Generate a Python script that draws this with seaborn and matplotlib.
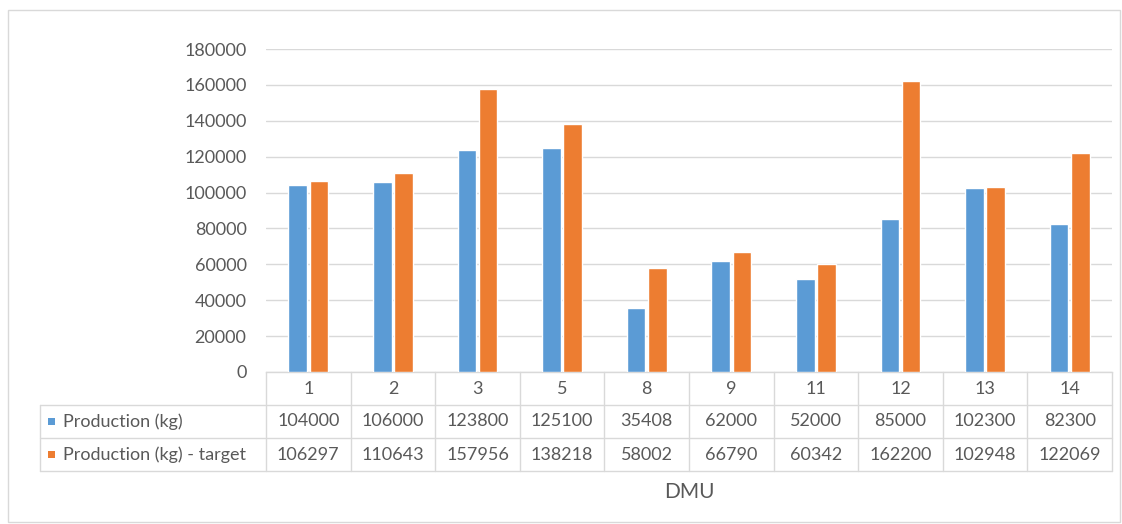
import matplotlib
matplotlib.use("Agg")
import matplotlib.pyplot as plt
import seaborn as sns
import pandas as pd
from matplotlib.patches import Rectangle

# DMU categories and the two production series (kg)
dmu = ["1", "2", "3", "5", "8", "9", "11", "12", "13", "14"]
production = [104000, 106000, 123800, 125100, 35408, 62000, 52000, 85000, 102300, 82300]
production_target = [106297, 110643, 157956, 138218, 58002, 66790, 60342, 162200, 102948, 122069]
series_names = ["Production (kg)", "Production (kg) - target"]
y_ticks = [0, 20000, 40000, 60000, 80000, 100000, 120000, 140000, 160000, 180000]

colors = ["#5B9BD5", "#ED7D31"]
text_color = "#595959"
line_color = "#D9D9D9"
fs = 13

sns.set_theme(style="white")
plt.rcParams["font.family"] = ["Lato", "DejaVu Sans"]

df = pd.DataFrame({
    "DMU": dmu * 2,
    "value": production + production_target,
    "series": [series_names[0]] * len(dmu) + [series_names[1]] * len(dmu),
})

W, H = 1122, 524
fig = plt.figure(figsize=(W / 100, H / 100), dpi=100)

# outer chart border
fig.patches.append(Rectangle((8 / W, 2 / H), 1112 / W, 512 / H, transform=fig.transFigure,
                             fill=False, edgecolor=line_color, linewidth=1.0))

left, right, top, bottom = 266, 1112, 49, 372
ax = fig.add_axes([left / W, 1 - bottom / H, (right - left) / W, (bottom - top) / H])

sns.barplot(data=df, x="DMU", y="value", hue="series", order=dmu, hue_order=series_names,
            palette=colors, width=0.5, gap=0.12, saturation=1, legend=False, ax=ax,
            zorder=3)

ax.set_xlim(-0.5, len(dmu) - 0.5)
ax.set_ylim(0, 180000)
ax.set_yticks(y_ticks)
ax.set_yticklabels([str(v) for v in y_ticks], color=text_color, fontsize=fs)
ax.tick_params(axis="y", length=0, pad=14)
ax.set_xticks([])
ax.set_xlabel("")
ax.set_ylabel("")
ax.grid(axis="y", color=line_color, linewidth=1.0, zorder=0)
for s in ["left", "right", "top"]:
    ax.spines[s].set_visible(False)
ax.spines["bottom"].set_color(line_color)
ax.spines["bottom"].set_linewidth(1.0)

# data table underneath the axis
axh = bottom - top
row = 33 / axh
tr = ax.get_xaxis_transform()
label_left = -0.5 - (left - 40) / ((right - left) / len(dmu))
n = len(dmu)
lw = 1.0
# horizontal lines
for k in (1, 2, 3):
    ax.plot([label_left, n - 0.5], [-k * row] * 2, transform=tr, color=line_color,
            lw=lw, clip_on=False)
# vertical lines
for i in range(n + 1):
    ax.plot([i - 0.5] * 2, [0, -3 * row], transform=tr, color=line_color, lw=lw, clip_on=False)
ax.plot([label_left] * 2, [-row, -3 * row], transform=tr, color=line_color, lw=lw, clip_on=False)

for i, name in enumerate(dmu):
    ax.text(i, -0.5 * row, name, transform=tr, ha="center", va="center",
            color=text_color, fontsize=fs)
    ax.text(i, -1.5 * row, str(production[i]), transform=tr, ha="center", va="center",
            color=text_color, fontsize=fs)
    ax.text(i, -2.5 * row, str(production_target[i]), transform=tr, ha="center",
            va="center", color=text_color, fontsize=fs)

unit = (right - left) / n
for r, (name, c) in enumerate(zip(series_names, colors)):
    yc = -(1.5 + r) * row
    ax.add_patch(Rectangle((label_left + 8 / unit, yc - 3.5 / axh), 7 / unit, 7 / axh,
                           transform=tr, facecolor=c, edgecolor="none", clip_on=False))
    ax.text(label_left + 23 / unit, yc, name, transform=tr, ha="left", va="center",
            color=text_color, fontsize=fs)

ax.text(0.5, -(492 - bottom) / axh, "DMU", transform=ax.transAxes, ha="center",
        va="center", color=text_color, fontsize=15)

fig.savefig("out.png", dpi=100)
